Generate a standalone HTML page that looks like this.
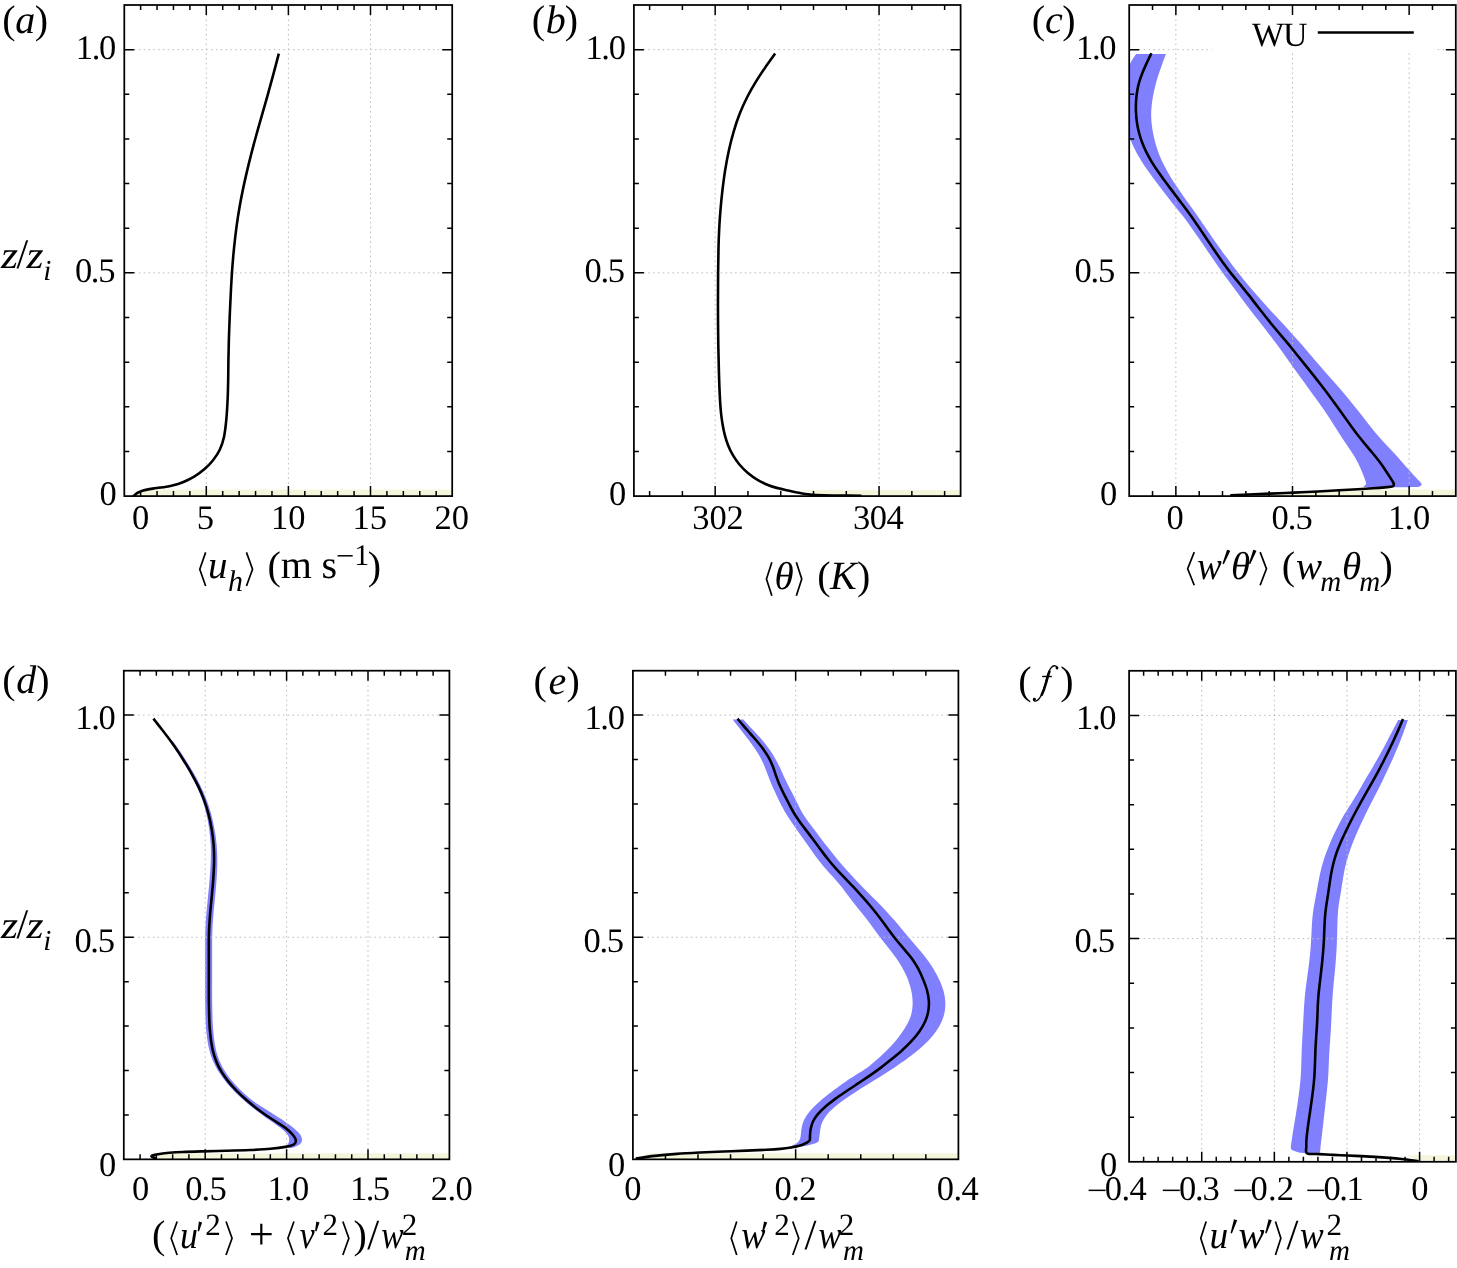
<!DOCTYPE html><html><head><meta charset="utf-8"><style>html,body{margin:0;padding:0;background:#fff;overflow:hidden;}svg{display:block;will-change:transform;}text{font-family:"Liberation Serif",serif;fill:#000;stroke:none;text-rendering:geometricPrecision;}</style></head><body>
<svg width="1457" height="1268" viewBox="0 0 1457 1268">
<rect width="1457" height="1268" fill="#fff"/>
<defs>
<clipPath id="cpa"><rect x="124.30" y="5.00" width="327.90" height="491.10"/></clipPath>
<clipPath id="cpb"><rect x="633.90" y="5.00" width="326.70" height="491.10"/></clipPath>
<clipPath id="cpc"><rect x="1129.20" y="5.00" width="326.60" height="491.10"/></clipPath>
<clipPath id="cpd"><rect x="123.80" y="670.70" width="325.60" height="488.65"/></clipPath>
<clipPath id="cpe"><rect x="632.90" y="670.70" width="325.50" height="488.65"/></clipPath>
<clipPath id="cpf"><rect x="1129.10" y="670.80" width="326.80" height="491.00"/></clipPath>
</defs>
<g clip-path="url(#cpa)">
<path d="M145.00,489.40 L452.20,489.40 L452.20,496.10 L134.00,496.10Z" fill="#f5f5dc"/>
<path d="M206.30,5.00V496.10M288.40,5.00V496.10M370.50,5.00V496.10M124.30,272.87H452.20M124.30,49.65H452.20" stroke="#bdbdbd" stroke-width="1" stroke-dasharray="1.6,3.22" fill="none"/>
<path d="M278.80,53.60 C277.90,57.03 275.31,67.05 273.40,74.17 C271.49,81.30 269.48,88.61 267.32,96.32 C265.17,104.04 262.70,112.49 260.45,120.45 C258.20,128.41 255.88,136.45 253.82,144.10 C251.77,151.75 249.88,159.15 248.15,166.33 C246.42,173.50 244.84,180.43 243.42,187.12 C242.01,193.82 240.79,199.96 239.65,206.50 C238.51,213.04 237.52,219.34 236.57,226.35 C235.63,233.36 234.72,241.23 233.97,248.57 C233.23,255.92 232.64,263.32 232.12,270.40 C231.61,277.48 231.29,283.56 230.90,291.05 C230.51,298.54 230.12,307.12 229.77,315.33 C229.43,323.53 229.08,332.74 228.85,340.30 C228.62,347.86 228.51,354.28 228.40,360.70 C228.29,367.12 228.32,372.57 228.20,378.82 C228.08,385.07 227.98,391.51 227.68,398.20 C227.37,404.89 226.99,412.51 226.38,418.98 C225.76,425.44 225.12,431.82 224.00,437.00 C222.88,442.18 221.48,446.15 219.65,450.02 C217.82,453.90 215.54,457.05 213.03,460.23 C210.51,463.40 207.69,466.36 204.55,469.10 C201.41,471.84 197.81,474.46 194.20,476.65 C190.59,478.84 186.50,480.75 182.88,482.23 C179.25,483.70 175.78,484.70 172.47,485.53 C169.17,486.35 166.33,486.69 163.03,487.20 C159.72,487.71 155.93,488.05 152.62,488.60 C149.32,489.15 145.66,489.80 143.18,490.50 C140.69,491.20 139.08,492.03 137.70,492.77 C136.32,493.52 135.66,494.36 134.88,494.95 C134.09,495.54 133.31,496.07 133.00,496.30" fill="none" stroke="#000" stroke-width="2.6" stroke-linejoin="round" stroke-linecap="butt"/>
</g>
<path d="M206.30,496.10v-10M206.30,5.00v10M288.40,496.10v-10M288.40,5.00v10M370.50,496.10v-10M370.50,5.00v10M140.62,496.10v-5M140.62,5.00v5M157.04,496.10v-5M157.04,5.00v5M173.46,496.10v-5M173.46,5.00v5M189.88,496.10v-5M189.88,5.00v5M222.72,496.10v-5M222.72,5.00v5M239.14,496.10v-5M239.14,5.00v5M255.56,496.10v-5M255.56,5.00v5M271.98,496.10v-5M271.98,5.00v5M304.82,496.10v-5M304.82,5.00v5M321.24,496.10v-5M321.24,5.00v5M337.66,496.10v-5M337.66,5.00v5M354.08,496.10v-5M354.08,5.00v5M386.92,496.10v-5M386.92,5.00v5M403.34,496.10v-5M403.34,5.00v5M419.76,496.10v-5M419.76,5.00v5M436.18,496.10v-5M436.18,5.00v5M124.30,272.87h10M452.20,272.87h-10M124.30,49.65h10M452.20,49.65h-10M124.30,451.45h5M452.20,451.45h-5M124.30,406.81h5M452.20,406.81h-5M124.30,362.16h5M452.20,362.16h-5M124.30,317.52h5M452.20,317.52h-5M124.30,228.23h5M452.20,228.23h-5M124.30,183.58h5M452.20,183.58h-5M124.30,138.94h5M452.20,138.94h-5M124.30,94.29h5M452.20,94.29h-5" stroke="#000" stroke-width="1.5" fill="none"/>
<rect x="124.30" y="5.00" width="327.90" height="491.10" fill="none" stroke="#000" stroke-width="1.75"/>
<g clip-path="url(#cpb)">
<path d="M800.00,489.90 L960.60,489.90 L960.60,496.10 L830.00,496.10Z" fill="#f5f5dc"/>
<path d="M715.17,5.00V496.10M879.07,5.00V496.10M633.90,272.87H960.60M633.90,49.65H960.60" stroke="#bdbdbd" stroke-width="1" stroke-dasharray="1.6,3.22" fill="none"/>
<path d="M775.10,53.60 C773.53,55.80 768.82,62.23 765.67,66.83 C762.53,71.42 759.30,76.14 756.23,81.17 C753.15,86.21 750.01,91.59 747.25,97.03 C744.49,102.46 741.92,108.09 739.67,113.80 C737.42,119.51 735.52,125.29 733.75,131.28 C731.98,137.26 730.44,143.33 729.02,149.72 C727.61,156.12 726.35,162.84 725.25,169.62 C724.15,176.41 723.22,183.67 722.42,190.45 C721.62,197.23 720.99,203.84 720.45,210.30 C719.91,216.76 719.50,222.78 719.18,229.20 C718.85,235.62 718.65,241.45 718.48,248.85 C718.30,256.25 718.19,264.03 718.10,273.60 C718.01,283.18 717.92,294.80 717.95,306.30 C717.97,317.80 718.08,331.13 718.25,342.60 C718.42,354.07 718.73,365.92 719.00,375.10 C719.27,384.28 719.56,391.55 719.88,397.68 C720.19,403.80 720.47,407.49 720.90,411.82 C721.33,416.16 721.82,419.80 722.48,423.68 C723.13,427.55 723.88,431.46 724.83,435.10 C725.78,438.74 726.83,442.18 728.17,445.53 C729.52,448.88 731.03,452.04 732.90,455.20 C734.77,458.36 736.90,461.52 739.40,464.47 C741.90,467.43 744.79,470.33 747.88,472.92 C750.96,475.52 754.47,477.97 757.92,480.02 C761.38,482.08 765.16,483.89 768.58,485.28 C771.99,486.66 775.20,487.47 778.43,488.33 C781.65,489.18 784.51,489.66 787.90,490.40 C791.29,491.14 795.01,492.07 798.77,492.77 C802.54,493.48 806.35,494.20 810.50,494.62 C814.65,495.05 818.59,495.19 823.65,495.35 C828.71,495.51 834.57,495.52 840.88,495.57 C847.18,495.63 858.06,495.68 861.50,495.70" fill="none" stroke="#000" stroke-width="2.6" stroke-linejoin="round" stroke-linecap="butt"/>
</g>
<path d="M715.17,496.10v-10M715.17,5.00v10M879.07,496.10v-10M879.07,5.00v10M649.61,496.10v-5M649.61,5.00v5M682.39,496.10v-5M682.39,5.00v5M747.95,496.10v-5M747.95,5.00v5M780.73,496.10v-5M780.73,5.00v5M813.51,496.10v-5M813.51,5.00v5M846.29,496.10v-5M846.29,5.00v5M911.85,496.10v-5M911.85,5.00v5M944.63,496.10v-5M944.63,5.00v5M633.90,272.87h10M960.60,272.87h-10M633.90,49.65h10M960.60,49.65h-10M633.90,451.45h5M960.60,451.45h-5M633.90,406.81h5M960.60,406.81h-5M633.90,362.16h5M960.60,362.16h-5M633.90,317.52h5M960.60,317.52h-5M633.90,228.23h5M960.60,228.23h-5M633.90,183.58h5M960.60,183.58h-5M633.90,138.94h5M960.60,138.94h-5M633.90,94.29h5M960.60,94.29h-5" stroke="#000" stroke-width="1.5" fill="none"/>
<rect x="633.90" y="5.00" width="326.70" height="491.10" fill="none" stroke="#000" stroke-width="1.75"/>
<g clip-path="url(#cpc)">
<path d="M1360.00,489.50 L1455.80,489.50 L1455.80,496.10 L1240.00,496.10Z" fill="#f5f5dc"/>
<path d="M1166.00,54.10 C1165.35,55.81 1163.36,60.89 1162.09,64.38 C1160.82,67.87 1159.52,71.44 1158.38,75.05 C1157.23,78.66 1156.13,82.39 1155.22,86.03 C1154.31,89.66 1153.53,93.39 1152.92,96.87 C1152.31,100.36 1151.84,103.75 1151.55,106.93 C1151.26,110.11 1151.13,112.98 1151.18,115.95 C1151.22,118.92 1151.44,121.72 1151.80,124.78 C1152.16,127.83 1152.65,131.02 1153.32,134.31 C1153.98,137.59 1154.78,141.06 1155.79,144.49 C1156.80,147.93 1157.99,151.45 1159.38,154.92 C1160.76,158.39 1162.34,161.87 1164.08,165.32 C1165.82,168.78 1167.77,172.23 1169.82,175.68 C1171.87,179.12 1174.13,182.61 1176.39,186.02 C1178.66,189.44 1181.06,192.86 1183.40,196.17 C1185.74,199.49 1188.14,202.72 1190.45,205.92 C1192.76,209.13 1194.97,212.16 1197.24,215.42 C1199.51,218.68 1201.55,221.77 1204.08,225.48 C1206.61,229.19 1209.32,233.25 1212.43,237.69 C1215.53,242.14 1219.23,247.33 1222.71,252.14 C1226.20,256.94 1229.89,261.98 1233.33,266.51 C1236.77,271.04 1240.06,275.25 1243.38,279.33 C1246.69,283.42 1250.01,287.27 1253.23,291.02 C1256.45,294.78 1259.66,298.42 1262.69,301.84 C1265.73,305.26 1268.53,308.37 1271.43,311.53 C1274.33,314.69 1277.11,317.60 1280.08,320.78 C1283.05,323.97 1286.17,327.28 1289.24,330.64 C1292.31,334.01 1295.49,337.56 1298.51,340.99 C1301.52,344.41 1304.42,347.80 1307.34,351.20 C1310.27,354.60 1313.02,357.88 1316.07,361.41 C1319.11,364.95 1322.21,368.50 1325.61,372.40 C1329.02,376.30 1332.82,380.56 1336.51,384.84 C1340.21,389.11 1344.22,393.75 1347.79,398.05 C1351.36,402.35 1354.76,406.61 1357.94,410.61 C1361.11,414.61 1363.95,418.41 1366.83,422.05 C1369.71,425.69 1372.40,429.11 1375.21,432.44 C1378.01,435.76 1380.78,438.84 1383.64,442.00 C1386.50,445.16 1389.46,448.22 1392.37,451.37 C1395.28,454.52 1398.29,457.78 1401.08,460.88 C1403.88,463.98 1406.67,467.18 1409.13,469.96 C1411.59,472.73 1413.82,475.28 1415.85,477.55 C1417.88,479.82 1420.58,482.19 1421.30,483.60 C1422.02,485.01 1421.05,485.42 1420.20,486.00 C1419.35,486.58 1419.57,486.90 1416.20,487.10 C1412.83,487.30 1406.03,487.18 1400.00,487.20 C1393.97,487.22 1385.97,487.22 1380.00,487.20 C1374.03,487.18 1366.52,487.70 1364.20,487.10 C1361.88,486.50 1366.20,485.43 1366.10,483.60 C1366.00,481.77 1364.59,478.77 1363.62,476.11 C1362.64,473.44 1361.61,470.59 1360.26,467.63 C1358.90,464.67 1357.32,461.52 1355.51,458.37 C1353.70,455.22 1351.57,452.06 1349.40,448.75 C1347.23,445.44 1344.85,442.07 1342.50,438.49 C1340.15,434.90 1337.73,431.04 1335.30,427.25 C1332.87,423.46 1330.38,419.46 1327.91,415.76 C1325.45,412.07 1323.02,408.63 1320.51,405.09 C1318.01,401.56 1315.59,398.31 1312.89,394.56 C1310.19,390.82 1307.30,386.76 1304.32,382.61 C1301.34,378.47 1298.06,373.92 1295.02,369.69 C1291.97,365.46 1289.00,361.32 1286.04,357.22 C1283.09,353.13 1280.29,349.16 1277.31,345.11 C1274.32,341.05 1271.18,336.86 1268.14,332.89 C1265.11,328.92 1261.97,324.98 1259.08,321.28 C1256.20,317.58 1253.53,314.20 1250.83,310.68 C1248.13,307.16 1245.63,303.79 1242.89,300.14 C1240.16,296.50 1237.32,292.69 1234.43,288.81 C1231.54,284.92 1228.51,280.89 1225.57,276.84 C1222.63,272.80 1219.78,268.76 1216.81,264.52 C1213.85,260.29 1210.83,255.83 1207.79,251.42 C1204.76,247.01 1201.51,242.25 1198.61,238.05 C1195.70,233.85 1192.97,229.84 1190.38,226.23 C1187.80,222.62 1185.51,219.50 1183.10,216.37 C1180.69,213.23 1178.34,210.41 1175.95,207.42 C1173.56,204.43 1171.16,201.51 1168.75,198.45 C1166.34,195.39 1163.91,192.19 1161.50,189.03 C1159.09,185.87 1156.64,182.64 1154.30,179.47 C1151.96,176.30 1149.65,173.17 1147.45,170.00 C1145.25,166.83 1143.24,163.96 1141.09,160.43 C1138.94,156.90 1137.05,154.01 1134.54,148.83 C1132.03,143.65 1129.29,137.51 1126.03,129.37 C1122.77,121.23 1114.52,110.51 1115.00,100.00 C1115.48,89.49 1125.40,73.95 1128.90,66.30 C1132.40,58.65 1134.82,56.13 1136.00,54.10Z" fill="#8080ff"/>
<path d="M1175.86,5.00V496.10M1292.50,5.00V496.10M1409.14,5.00V496.10M1129.20,272.87H1455.80M1129.20,49.65H1455.80" stroke="#bdbdbd" stroke-width="1" stroke-dasharray="1.6,3.22" fill="none"/>
<rect x="1211.5" y="5" width="223" height="46.2" fill="#fff"/>
<path d="M1151.40,53.30 C1150.92,54.28 1149.49,57.10 1148.49,59.20 C1147.49,61.30 1146.44,63.53 1145.40,65.88 C1144.36,68.22 1143.26,70.70 1142.27,73.25 C1141.28,75.80 1140.29,78.37 1139.47,81.19 C1138.65,84.02 1137.89,86.97 1137.33,90.21 C1136.77,93.46 1136.33,97.03 1136.10,100.65 C1135.87,104.27 1135.81,108.21 1135.96,111.93 C1136.11,115.65 1136.47,119.43 1137.00,122.98 C1137.53,126.54 1138.26,129.92 1139.15,133.26 C1140.04,136.59 1141.12,139.81 1142.34,142.99 C1143.56,146.18 1144.96,149.31 1146.47,152.38 C1147.98,155.44 1149.62,158.41 1151.40,161.41 C1153.18,164.40 1155.10,167.33 1157.15,170.34 C1159.20,173.35 1161.44,176.38 1163.70,179.47 C1165.96,182.56 1168.34,185.73 1170.70,188.88 C1173.06,192.04 1175.44,195.21 1177.85,198.40 C1180.26,201.59 1182.70,204.67 1185.19,208.01 C1187.68,211.34 1190.23,214.77 1192.79,218.41 C1195.35,222.06 1197.96,226.02 1200.56,229.88 C1203.17,233.74 1205.80,237.72 1208.41,241.56 C1211.03,245.40 1213.65,249.20 1216.25,252.93 C1218.85,256.66 1221.39,260.36 1223.99,263.92 C1226.60,267.49 1229.16,270.89 1231.87,274.32 C1234.58,277.76 1237.37,281.01 1240.23,284.52 C1243.09,288.04 1246.04,291.64 1249.04,295.43 C1252.03,299.23 1255.09,303.30 1258.21,307.30 C1261.32,311.30 1264.58,315.50 1267.74,319.41 C1270.90,323.33 1274.14,327.17 1277.17,330.80 C1280.19,334.43 1283.10,337.82 1285.90,341.19 C1288.70,344.55 1291.28,347.72 1293.94,351.00 C1296.61,354.28 1299.14,357.46 1301.87,360.87 C1304.60,364.27 1307.39,367.73 1310.33,371.43 C1313.27,375.12 1316.40,379.04 1319.49,383.03 C1322.58,387.01 1325.84,391.29 1328.86,395.32 C1331.87,399.36 1334.86,403.46 1337.59,407.22 C1340.33,410.99 1342.83,414.53 1345.27,417.93 C1347.71,421.34 1349.98,424.55 1352.26,427.66 C1354.53,430.76 1356.72,433.72 1358.93,436.55 C1361.14,439.38 1363.27,441.94 1365.51,444.64 C1367.75,447.35 1370.06,449.95 1372.36,452.77 C1374.67,455.59 1377.13,458.64 1379.34,461.58 C1381.55,464.52 1383.77,467.69 1385.61,470.41 C1387.45,473.12 1389.02,475.65 1390.37,477.85 C1391.72,480.05 1393.33,482.18 1393.70,483.60 C1394.07,485.03 1394.10,485.77 1392.60,486.40 C1391.10,487.03 1387.90,487.07 1384.67,487.39 C1381.45,487.71 1377.76,488.00 1373.27,488.31 C1368.78,488.62 1363.43,488.91 1357.74,489.25 C1352.04,489.59 1345.78,489.95 1339.10,490.32 C1332.42,490.69 1325.24,491.09 1317.68,491.46 C1310.12,491.84 1301.73,492.22 1293.74,492.58 C1285.75,492.93 1277.25,493.27 1269.73,493.59 C1262.21,493.92 1255.20,494.22 1248.63,494.52 C1242.06,494.82 1233.36,495.25 1230.30,495.40" fill="none" stroke="#000" stroke-width="2.6" stroke-linejoin="round" stroke-linecap="butt"/>
</g>
<path d="M1175.86,496.10v-10M1175.86,5.00v10M1292.50,496.10v-10M1292.50,5.00v10M1409.14,496.10v-10M1409.14,5.00v10M1152.53,496.10v-5M1152.53,5.00v5M1199.19,496.10v-5M1199.19,5.00v5M1222.51,496.10v-5M1222.51,5.00v5M1245.84,496.10v-5M1245.84,5.00v5M1269.17,496.10v-5M1269.17,5.00v5M1315.83,496.10v-5M1315.83,5.00v5M1339.16,496.10v-5M1339.16,5.00v5M1362.49,496.10v-5M1362.49,5.00v5M1385.81,496.10v-5M1385.81,5.00v5M1432.47,496.10v-5M1432.47,5.00v5M1129.20,272.87h10M1455.80,272.87h-10M1129.20,49.65h10M1455.80,49.65h-10M1129.20,451.45h5M1455.80,451.45h-5M1129.20,406.81h5M1455.80,406.81h-5M1129.20,362.16h5M1455.80,362.16h-5M1129.20,317.52h5M1455.80,317.52h-5M1129.20,228.23h5M1455.80,228.23h-5M1129.20,183.58h5M1455.80,183.58h-5M1129.20,138.94h5M1455.80,138.94h-5M1129.20,94.29h5M1455.80,94.29h-5" stroke="#000" stroke-width="1.5" fill="none"/>
<rect x="1129.20" y="5.00" width="326.60" height="491.10" fill="none" stroke="#000" stroke-width="1.75"/>
<g clip-path="url(#cpd)">
<path d="M160.00,1153.20 L449.40,1153.20 L449.40,1159.35 L156.00,1159.35Z" fill="#f5f5dc"/>
<path d="M172.70,740.69 C173.78,742.23 176.98,746.67 179.17,749.92 C181.36,753.17 183.47,756.41 185.83,760.18 C188.20,763.94 190.94,768.25 193.37,772.51 C195.81,776.76 198.32,781.31 200.45,785.70 C202.59,790.08 204.46,794.26 206.20,798.82 C207.94,803.38 209.53,808.07 210.91,813.04 C212.28,818.01 213.49,823.40 214.45,828.64 C215.41,833.88 216.17,839.00 216.65,844.47 C217.13,849.95 217.35,855.54 217.34,861.48 C217.32,867.43 216.96,873.87 216.55,880.16 C216.14,886.44 215.43,892.94 214.87,899.18 C214.31,905.42 213.62,911.78 213.19,917.61 C212.76,923.45 212.45,928.43 212.28,934.17 C212.12,939.92 212.19,945.07 212.18,952.08 C212.16,959.10 212.18,967.64 212.19,976.29 C212.19,984.95 212.07,995.20 212.22,1004.03 C212.37,1012.87 212.54,1021.93 213.10,1029.29 C213.66,1036.66 214.53,1042.95 215.61,1048.22 C216.69,1053.50 218.11,1057.22 219.59,1060.93 C221.07,1064.64 222.63,1067.41 224.50,1070.49 C226.36,1073.57 228.36,1076.39 230.78,1079.40 C233.21,1082.40 236.09,1085.52 239.03,1088.51 C241.97,1091.49 245.06,1094.50 248.43,1097.30 C251.80,1100.10 255.37,1102.70 259.24,1105.31 C263.11,1107.92 267.57,1110.39 271.65,1112.96 C275.72,1115.53 280.02,1118.21 283.67,1120.72 C287.33,1123.24 290.90,1125.78 293.60,1128.03 C296.30,1130.28 298.47,1132.35 299.88,1134.23 C301.28,1136.10 301.87,1137.80 302.02,1139.30 C302.18,1140.80 301.67,1142.10 300.80,1143.22 C299.93,1144.35 298.40,1145.25 296.80,1146.03 C295.20,1146.80 293.17,1147.74 291.20,1147.90 C289.23,1148.06 285.62,1147.52 285.00,1147.00 C284.38,1146.48 286.76,1145.80 287.45,1144.80 C288.14,1143.80 289.00,1142.43 289.15,1140.97 C289.30,1139.52 289.25,1137.79 288.35,1136.05 C287.45,1134.31 285.90,1132.51 283.76,1130.52 C281.61,1128.54 278.56,1126.36 275.48,1124.13 C272.40,1121.90 268.71,1119.56 265.29,1117.15 C261.86,1114.73 258.32,1112.25 254.91,1109.62 C251.51,1106.98 248.15,1104.23 244.86,1101.34 C241.57,1098.45 238.22,1095.37 235.16,1092.27 C232.11,1089.17 229.11,1085.90 226.53,1082.75 C223.96,1079.60 221.78,1076.62 219.70,1073.37 C217.62,1070.11 215.80,1067.16 214.06,1063.21 C212.32,1059.27 210.57,1055.24 209.26,1049.69 C207.94,1044.14 206.87,1037.51 206.18,1029.93 C205.49,1022.34 205.31,1013.11 205.12,1004.18 C204.94,995.24 205.10,984.99 205.09,976.31 C205.08,967.62 205.06,959.12 205.08,952.06 C205.09,945.01 205.02,939.79 205.19,933.96 C205.36,928.14 205.67,923.02 206.11,917.11 C206.54,911.21 207.22,904.78 207.80,898.54 C208.38,892.30 209.08,885.86 209.57,879.67 C210.06,873.48 210.55,867.20 210.73,861.41 C210.92,855.61 210.95,850.23 210.70,844.91 C210.45,839.59 209.94,834.61 209.24,829.49 C208.53,824.37 207.59,819.07 206.45,814.19 C205.32,809.31 203.96,804.70 202.40,800.21 C200.84,795.72 199.11,791.60 197.12,787.26 C195.12,782.92 192.74,778.39 190.42,774.15 C188.10,769.91 185.47,765.58 183.20,761.80 C180.93,758.02 178.90,754.75 176.79,751.49 C174.69,748.23 171.59,743.78 170.55,742.24Z" fill="#8080ff"/>
<path d="M205.20,670.70V1159.35M286.60,670.70V1159.35M368.00,670.70V1159.35M123.80,937.24H449.40M123.80,715.12H449.40" stroke="#bdbdbd" stroke-width="1" stroke-dasharray="1.6,3.22" fill="none"/>
<path d="M153.40,718.60 C154.85,720.46 159.25,726.05 162.12,729.78 C165.00,733.50 168.04,737.43 170.62,740.95 C173.21,744.48 175.39,747.55 177.65,750.92 C179.91,754.30 181.86,757.43 184.18,761.20 C186.49,764.97 189.18,769.28 191.55,773.52 C193.93,777.77 196.36,782.30 198.43,786.65 C200.49,791.00 202.29,795.14 203.95,799.65 C205.61,804.16 207.11,808.79 208.40,813.70 C209.69,818.61 210.80,823.93 211.68,829.10 C212.55,834.27 213.22,839.31 213.62,844.70 C214.03,850.09 214.17,855.58 214.10,861.45 C214.03,867.32 213.63,873.69 213.20,879.93 C212.77,886.16 212.06,892.63 211.50,898.88 C210.94,905.12 210.25,911.51 209.83,917.38 C209.40,923.24 209.09,928.29 208.92,934.08 C208.76,939.86 208.84,945.04 208.82,952.08 C208.81,959.11 208.84,967.63 208.85,976.30 C208.86,984.97 208.74,995.22 208.90,1004.10 C209.06,1012.98 209.23,1022.12 209.82,1029.60 C210.42,1037.08 211.32,1043.55 212.45,1048.97 C213.58,1054.40 215.07,1058.31 216.62,1062.17 C218.18,1066.04 219.81,1068.95 221.75,1072.15 C223.69,1075.35 225.76,1078.29 228.25,1081.40 C230.74,1084.51 233.68,1087.73 236.68,1090.80 C239.67,1093.87 242.98,1096.93 246.22,1099.80 C249.47,1102.67 252.78,1105.41 256.15,1108.03 C259.52,1110.64 263.03,1113.16 266.42,1115.50 C269.82,1117.84 273.37,1119.99 276.52,1122.05 C279.68,1124.11 282.81,1125.93 285.35,1127.88 C287.89,1129.82 290.02,1131.73 291.75,1133.70 C293.48,1135.67 295.29,1137.95 295.70,1139.70 C296.11,1141.45 295.92,1143.00 294.20,1144.20 C292.48,1145.40 289.29,1146.13 285.35,1146.90 C281.41,1147.67 276.45,1148.30 270.55,1148.82 C264.65,1149.35 257.36,1149.70 249.97,1150.03 C242.59,1150.35 234.22,1150.58 226.25,1150.80 C218.28,1151.02 209.42,1151.16 202.18,1151.35 C194.93,1151.54 188.28,1151.71 182.80,1151.95 C177.33,1152.19 173.20,1152.47 169.32,1152.80 C165.45,1153.13 162.16,1153.54 159.55,1153.92 C156.94,1154.31 155.03,1154.75 153.65,1155.12 C152.28,1155.50 151.31,1155.77 151.30,1156.20 C151.29,1156.63 152.73,1157.28 153.60,1157.70 C154.47,1158.12 156.02,1158.53 156.50,1158.70" fill="none" stroke="#000" stroke-width="2.6" stroke-linejoin="round" stroke-linecap="butt"/>
</g>
<path d="M205.20,1159.35v-10M205.20,670.70v10M286.60,1159.35v-10M286.60,670.70v10M368.00,1159.35v-10M368.00,670.70v10M140.08,1159.35v-5M140.08,670.70v5M156.36,1159.35v-5M156.36,670.70v5M172.64,1159.35v-5M172.64,670.70v5M188.92,1159.35v-5M188.92,670.70v5M221.48,1159.35v-5M221.48,670.70v5M237.76,1159.35v-5M237.76,670.70v5M254.04,1159.35v-5M254.04,670.70v5M270.32,1159.35v-5M270.32,670.70v5M302.88,1159.35v-5M302.88,670.70v5M319.16,1159.35v-5M319.16,670.70v5M335.44,1159.35v-5M335.44,670.70v5M351.72,1159.35v-5M351.72,670.70v5M384.28,1159.35v-5M384.28,670.70v5M400.56,1159.35v-5M400.56,670.70v5M416.84,1159.35v-5M416.84,670.70v5M433.12,1159.35v-5M433.12,670.70v5M123.80,937.24h10M449.40,937.24h-10M123.80,715.12h10M449.40,715.12h-10M123.80,1114.93h5M449.40,1114.93h-5M123.80,1070.50h5M449.40,1070.50h-5M123.80,1026.08h5M449.40,1026.08h-5M123.80,981.66h5M449.40,981.66h-5M123.80,892.81h5M449.40,892.81h-5M123.80,848.39h5M449.40,848.39h-5M123.80,803.97h5M449.40,803.97h-5M123.80,759.55h5M449.40,759.55h-5" stroke="#000" stroke-width="1.5" fill="none"/>
<rect x="123.80" y="670.70" width="325.60" height="488.65" fill="none" stroke="#000" stroke-width="1.75"/>
<g clip-path="url(#cpe)">
<path d="M647.00,1153.20 L958.40,1153.20 L958.40,1159.20 L636.00,1159.20Z" fill="#f5f5dc"/>
<path d="M743.40,719.50 C744.65,720.88 748.30,724.92 750.90,727.78 C753.50,730.63 756.37,733.64 759.00,736.62 C761.63,739.61 764.37,742.68 766.70,745.70 C769.03,748.73 771.13,751.79 773.00,754.77 C774.87,757.76 776.40,760.70 777.90,763.62 C779.40,766.55 780.65,769.38 782.02,772.30 C783.40,775.22 784.70,778.12 786.17,781.18 C787.65,784.23 789.30,787.47 790.90,790.62 C792.50,793.78 794.22,797.08 795.78,800.12 C797.33,803.17 798.60,805.93 800.22,808.88 C801.85,811.82 803.44,814.65 805.50,817.77 C807.56,820.90 810.10,824.27 812.60,827.62 C815.10,830.98 817.84,834.43 820.50,837.88 C823.16,841.32 825.82,844.79 828.58,848.30 C831.33,851.81 834.17,855.48 837.03,858.93 C839.88,862.38 842.69,865.63 845.70,869.00 C848.71,872.37 851.74,875.59 855.08,879.15 C858.41,882.71 862.14,886.69 865.70,890.35 C869.26,894.01 873.00,897.63 876.42,901.10 C879.85,904.57 883.09,907.75 886.27,911.17 C889.46,914.60 892.54,918.17 895.52,921.62 C898.51,925.07 901.37,928.52 904.20,931.88 C907.03,935.23 909.73,938.44 912.50,941.72 C915.27,945.01 918.18,948.35 920.80,951.58 C923.42,954.80 925.99,957.95 928.23,961.05 C930.46,964.15 932.34,967.04 934.20,970.17 C936.06,973.31 937.84,976.49 939.38,979.88 C940.91,983.26 942.44,986.89 943.42,990.50 C944.41,994.11 945.10,997.91 945.30,1001.52 C945.50,1005.14 945.25,1008.77 944.60,1012.20 C943.95,1015.62 942.84,1018.89 941.42,1022.08 C940.01,1025.26 938.20,1028.30 936.10,1031.33 C934.00,1034.35 931.56,1037.28 928.80,1040.20 C926.04,1043.12 923.01,1045.89 919.52,1048.88 C916.04,1051.86 912.12,1054.97 907.90,1058.12 C903.67,1061.28 898.80,1064.72 894.17,1067.82 C889.55,1070.93 884.68,1073.92 880.17,1076.75 C875.67,1079.58 871.33,1082.20 867.12,1084.83 C862.92,1087.45 858.83,1089.97 854.92,1092.50 C851.02,1095.03 847.16,1097.50 843.67,1100.00 C840.19,1102.50 836.86,1104.97 834.00,1107.50 C831.14,1110.03 828.52,1112.60 826.50,1115.20 C824.48,1117.80 822.94,1120.50 821.88,1123.10 C820.81,1125.70 820.52,1128.43 820.10,1130.80 C819.67,1133.17 819.69,1135.43 819.32,1137.30 C818.96,1139.17 819.26,1140.80 817.90,1142.00 C816.54,1143.20 813.52,1143.80 811.15,1144.50 C808.78,1145.20 806.23,1145.74 803.67,1146.18 C801.12,1146.61 797.78,1147.13 795.80,1147.10 C793.82,1147.07 791.64,1146.65 791.80,1146.00 C791.96,1145.35 795.44,1144.31 796.78,1143.22 C798.11,1142.14 799.14,1140.99 799.83,1139.47 C800.51,1137.96 800.57,1136.20 800.90,1134.12 C801.23,1132.05 801.20,1129.50 801.80,1127.00 C802.40,1124.50 803.14,1121.75 804.48,1119.12 C805.81,1116.50 807.60,1113.93 809.80,1111.28 C812.00,1108.62 814.69,1105.96 817.67,1103.20 C820.66,1100.44 824.12,1097.53 827.70,1094.70 C831.27,1091.87 835.25,1088.96 839.12,1086.20 C843.00,1083.44 847.41,1080.49 850.98,1078.12 C854.54,1075.76 857.79,1073.80 860.52,1072.03 C863.26,1070.25 864.86,1069.37 867.40,1067.45 C869.94,1065.53 872.74,1063.17 875.77,1060.50 C878.81,1057.83 882.54,1054.45 885.62,1051.42 C888.71,1048.40 891.64,1045.43 894.30,1042.38 C896.96,1039.32 899.40,1036.22 901.60,1033.10 C903.80,1029.97 905.90,1026.85 907.53,1023.62 C909.15,1020.40 910.52,1017.26 911.38,1013.77 C912.23,1010.29 912.65,1006.54 912.65,1002.72 C912.65,998.91 912.09,994.58 911.38,990.90 C910.66,987.22 909.51,983.78 908.38,980.65 C907.24,977.52 906.06,975.10 904.55,972.12 C903.04,969.15 901.36,966.05 899.30,962.82 C897.24,959.60 894.77,956.19 892.20,952.78 C889.63,949.36 886.70,945.97 883.90,942.32 C881.10,938.67 878.25,934.69 875.43,930.88 C872.60,927.06 869.83,923.11 866.97,919.42 C864.12,915.74 861.11,912.30 858.30,908.77 C855.49,905.25 852.83,901.80 850.12,898.25 C847.42,894.70 844.91,890.97 842.08,887.45 C839.24,883.92 836.14,880.54 833.10,877.10 C830.06,873.66 826.81,870.38 823.82,866.83 C820.84,863.28 817.93,859.51 815.17,855.80 C812.42,852.09 809.86,848.22 807.30,844.58 C804.74,840.93 802.30,837.47 799.80,833.92 C797.30,830.38 794.56,826.60 792.30,823.27 C790.04,819.95 787.98,816.85 786.23,813.97 C784.47,811.10 783.36,809.08 781.77,806.05 C780.19,803.02 778.43,799.43 776.70,795.77 C774.97,792.12 772.97,787.84 771.40,784.12 C769.83,780.41 768.62,776.93 767.27,773.48 C765.93,770.02 764.84,766.71 763.32,763.42 C761.81,760.14 760.07,756.90 758.20,753.77 C756.33,750.65 754.20,747.66 752.10,744.70 C750.00,741.74 747.79,738.88 745.60,736.03 C743.41,733.17 741.13,730.33 738.98,727.58 C736.83,724.82 733.75,720.85 732.70,719.50Z" fill="#8080ff"/>
<path d="M795.65,670.70V1159.35M632.90,937.24H958.40M632.90,715.12H958.40" stroke="#bdbdbd" stroke-width="1" stroke-dasharray="1.6,3.22" fill="none"/>
<path d="M737.50,718.70 C738.43,719.82 741.07,723.03 743.10,725.40 C745.13,727.77 747.42,730.30 749.70,732.90 C751.98,735.50 754.50,738.22 756.80,740.98 C759.10,743.73 761.46,746.57 763.50,749.42 C765.54,752.28 767.45,755.20 769.02,758.10 C770.60,761.00 771.82,763.90 772.97,766.80 C774.12,769.70 774.88,772.55 775.93,775.48 C776.98,778.40 778.00,781.34 779.27,784.32 C780.55,787.31 782.13,790.43 783.60,793.40 C785.07,796.37 786.62,799.32 788.07,802.12 C789.53,804.93 790.74,807.48 792.33,810.25 C793.91,813.02 795.54,815.70 797.60,818.73 C799.66,821.75 802.20,825.02 804.70,828.38 C807.20,831.73 809.97,835.31 812.60,838.83 C815.23,842.34 817.87,845.99 820.50,849.48 C823.13,852.96 825.72,856.44 828.38,859.73 C831.03,863.01 833.67,866.14 836.43,869.20 C839.18,872.26 842.15,875.22 844.90,878.10 C847.65,880.98 850.29,883.67 852.90,886.47 C855.51,889.27 857.80,891.81 860.58,894.90 C863.35,897.99 866.49,901.43 869.53,905.02 C872.56,908.62 875.87,912.70 878.80,916.47 C881.73,920.25 884.37,924.02 887.10,927.70 C889.83,931.38 892.42,935.04 895.17,938.52 C897.93,942.01 900.88,945.32 903.62,948.60 C906.37,951.88 909.25,954.90 911.65,958.20 C914.05,961.50 916.14,964.87 918.05,968.40 C919.96,971.93 921.60,975.69 923.10,979.38 C924.60,983.06 926.11,986.81 927.07,990.50 C928.04,994.19 928.73,997.91 928.90,1001.52 C929.07,1005.14 928.75,1008.77 928.08,1012.20 C927.40,1015.62 926.33,1018.85 924.88,1022.08 C923.42,1025.30 921.55,1028.38 919.35,1031.53 C917.15,1034.68 914.53,1037.86 911.67,1040.97 C908.82,1044.09 905.58,1047.17 902.20,1050.22 C898.82,1053.28 895.01,1056.38 891.40,1059.33 C887.79,1062.27 884.10,1065.20 880.55,1067.88 C877.00,1070.55 873.69,1072.90 870.08,1075.40 C866.46,1077.90 862.72,1080.34 858.88,1082.90 C855.03,1085.46 850.90,1088.15 847.03,1090.78 C843.15,1093.40 839.18,1096.00 835.60,1098.62 C832.02,1101.25 828.53,1103.90 825.57,1106.50 C822.62,1109.10 819.97,1111.70 817.88,1114.20 C815.78,1116.70 814.21,1119.10 813.02,1121.50 C811.84,1123.90 811.28,1126.33 810.77,1128.60 C810.27,1130.87 810.20,1133.13 810.00,1135.10 C809.80,1137.07 810.38,1139.02 809.60,1140.40 C808.82,1141.78 807.04,1142.50 805.33,1143.40 C803.61,1144.30 801.72,1145.09 799.30,1145.78 C796.88,1146.46 793.97,1147.01 790.83,1147.53 C787.68,1148.04 784.48,1148.47 780.45,1148.85 C776.43,1149.22 772.30,1149.48 766.67,1149.78 C761.05,1150.07 753.90,1150.31 746.67,1150.60 C739.45,1150.89 731.10,1151.18 723.33,1151.50 C715.55,1151.82 707.77,1152.12 700.00,1152.53 C692.23,1152.93 684.21,1153.34 676.67,1153.90 C669.14,1154.46 661.59,1155.11 654.77,1155.88 C647.96,1156.64 638.96,1158.06 635.80,1158.50" fill="none" stroke="#000" stroke-width="2.6" stroke-linejoin="round" stroke-linecap="butt"/>
</g>
<path d="M795.65,1159.35v-10M795.65,670.70v10M665.45,1159.35v-5M665.45,670.70v5M698.00,1159.35v-5M698.00,670.70v5M730.55,1159.35v-5M730.55,670.70v5M763.10,1159.35v-5M763.10,670.70v5M828.20,1159.35v-5M828.20,670.70v5M860.75,1159.35v-5M860.75,670.70v5M893.30,1159.35v-5M893.30,670.70v5M925.85,1159.35v-5M925.85,670.70v5M632.90,937.24h10M958.40,937.24h-10M632.90,715.12h10M958.40,715.12h-10M632.90,1114.93h5M958.40,1114.93h-5M632.90,1070.50h5M958.40,1070.50h-5M632.90,1026.08h5M958.40,1026.08h-5M632.90,981.66h5M958.40,981.66h-5M632.90,892.81h5M958.40,892.81h-5M632.90,848.39h5M958.40,848.39h-5M632.90,803.97h5M958.40,803.97h-5M632.90,759.55h5M958.40,759.55h-5" stroke="#000" stroke-width="1.5" fill="none"/>
<rect x="632.90" y="670.70" width="325.50" height="488.65" fill="none" stroke="#000" stroke-width="1.75"/>
<g clip-path="url(#cpf)">
<path d="M1406.60,1155.30 L1455.90,1155.30 L1455.90,1161.80 L1419.50,1161.80Z" fill="#f5f5dc"/>
<path d="M1407.90,719.90 C1407.16,722.02 1404.96,728.53 1403.44,732.65 C1401.93,736.77 1400.40,740.68 1398.79,744.63 C1397.18,748.59 1395.53,752.39 1393.78,756.38 C1392.03,760.37 1390.16,764.55 1388.31,768.57 C1386.45,772.59 1384.48,776.73 1382.64,780.51 C1380.80,784.28 1379.03,787.75 1377.27,791.21 C1375.51,794.68 1373.85,797.82 1372.08,801.29 C1370.31,804.77 1368.50,808.32 1366.66,812.07 C1364.82,815.81 1362.89,819.77 1361.04,823.77 C1359.20,827.76 1357.31,831.90 1355.57,836.04 C1353.83,840.18 1352.10,844.48 1350.62,848.61 C1349.15,852.74 1347.82,856.94 1346.74,860.83 C1345.67,864.73 1344.87,868.48 1344.16,871.98 C1343.45,875.49 1343.00,878.69 1342.49,881.86 C1341.97,885.02 1341.55,887.97 1341.06,890.95 C1340.58,893.93 1340.02,896.80 1339.56,899.75 C1339.10,902.70 1338.63,905.48 1338.30,908.64 C1337.97,911.79 1337.77,914.99 1337.60,918.69 C1337.42,922.38 1337.38,926.54 1337.25,930.80 C1337.12,935.06 1337.01,939.79 1336.81,944.25 C1336.61,948.71 1336.36,953.18 1336.04,957.54 C1335.73,961.90 1335.34,966.00 1334.94,970.41 C1334.53,974.81 1334.03,979.27 1333.61,983.96 C1333.20,988.64 1332.78,993.64 1332.46,998.52 C1332.14,1003.40 1331.94,1008.33 1331.69,1013.23 C1331.44,1018.14 1331.24,1023.00 1330.95,1027.95 C1330.66,1032.90 1330.26,1038.09 1329.95,1042.91 C1329.64,1047.73 1329.31,1052.60 1329.09,1056.87 C1328.86,1061.14 1328.79,1064.82 1328.61,1068.51 C1328.44,1072.19 1328.32,1075.27 1328.04,1078.96 C1327.75,1082.65 1327.36,1086.40 1326.91,1090.64 C1326.47,1094.88 1325.91,1099.66 1325.38,1104.39 C1324.86,1109.12 1324.28,1114.36 1323.76,1119.03 C1323.23,1123.70 1322.72,1128.35 1322.24,1132.39 C1321.77,1136.43 1321.34,1139.92 1320.92,1143.27 C1320.49,1146.62 1320.52,1150.84 1319.70,1152.50 C1318.88,1154.16 1318.45,1153.08 1316.00,1153.20 C1313.55,1153.32 1307.84,1153.31 1305.00,1153.20 C1302.16,1153.09 1300.76,1152.90 1298.98,1152.54 C1297.20,1152.19 1295.68,1151.71 1294.33,1151.06 C1292.98,1150.40 1291.32,1150.49 1290.90,1148.60 C1290.48,1146.71 1291.41,1142.92 1291.82,1139.73 C1292.23,1136.54 1292.75,1133.23 1293.34,1129.48 C1293.94,1125.74 1294.71,1121.55 1295.41,1117.26 C1296.10,1112.96 1296.88,1108.18 1297.53,1103.69 C1298.19,1099.21 1298.84,1094.51 1299.34,1090.34 C1299.85,1086.17 1300.26,1082.33 1300.56,1078.66 C1300.86,1074.99 1300.99,1071.95 1301.15,1068.31 C1301.31,1064.67 1301.36,1061.05 1301.51,1056.82 C1301.67,1052.59 1301.85,1047.72 1302.08,1042.91 C1302.31,1038.09 1302.61,1032.79 1302.88,1027.95 C1303.14,1023.11 1303.39,1018.26 1303.65,1013.86 C1303.91,1009.45 1304.10,1005.47 1304.41,1001.51 C1304.71,997.56 1305.05,994.04 1305.50,990.12 C1305.95,986.21 1306.53,982.21 1307.09,978.04 C1307.64,973.87 1308.30,969.36 1308.83,965.12 C1309.35,960.88 1309.85,956.64 1310.23,952.59 C1310.61,948.55 1310.86,944.73 1311.10,940.87 C1311.34,937.01 1311.44,933.18 1311.65,929.43 C1311.86,925.68 1312.04,921.87 1312.37,918.35 C1312.70,914.83 1313.13,911.49 1313.61,908.31 C1314.09,905.12 1314.70,902.28 1315.25,899.26 C1315.80,896.24 1316.35,893.39 1316.94,890.19 C1317.53,886.98 1318.06,883.62 1318.78,880.04 C1319.49,876.47 1320.23,872.60 1321.21,868.75 C1322.19,864.90 1323.30,860.93 1324.65,856.92 C1326.00,852.91 1327.59,848.83 1329.33,844.68 C1331.07,840.53 1333.07,836.15 1335.07,832.01 C1337.07,827.86 1339.22,823.65 1341.34,819.79 C1343.47,815.94 1345.65,812.41 1347.80,808.86 C1349.95,805.31 1352.11,802.03 1354.25,798.49 C1356.39,794.96 1358.51,791.31 1360.65,787.66 C1362.79,784.01 1364.95,780.25 1367.10,776.59 C1369.25,772.93 1371.42,769.37 1373.55,765.70 C1375.68,762.03 1377.80,758.37 1379.91,754.57 C1382.01,750.77 1384.12,746.80 1386.18,742.91 C1388.24,739.01 1390.28,735.04 1392.27,731.21 C1394.26,727.37 1397.13,721.78 1398.10,719.90Z" fill="#8080ff"/>
<path d="M1201.72,670.80V1161.80M1274.34,670.80V1161.80M1346.97,670.80V1161.80M1419.59,670.80V1161.80M1129.10,938.62H1455.90M1129.10,715.44H1455.90" stroke="#bdbdbd" stroke-width="1" stroke-dasharray="1.6,3.22" fill="none"/>
<path d="M1403.00,719.10 C1402.27,720.81 1400.13,725.89 1398.59,729.38 C1397.06,732.87 1395.47,736.44 1393.79,740.05 C1392.12,743.66 1390.34,747.37 1388.56,751.02 C1386.77,754.68 1384.94,758.38 1383.10,761.97 C1381.26,765.57 1379.40,769.14 1377.54,772.58 C1375.69,776.01 1373.78,779.36 1371.97,782.58 C1370.16,785.80 1368.40,788.85 1366.67,791.91 C1364.95,794.98 1363.34,797.87 1361.62,800.97 C1359.91,804.07 1358.15,807.21 1356.38,810.51 C1354.61,813.80 1352.77,817.28 1351.01,820.75 C1349.24,824.22 1347.49,827.78 1345.79,831.33 C1344.10,834.89 1342.38,838.43 1340.82,842.07 C1339.26,845.72 1337.72,849.40 1336.42,853.17 C1335.13,856.95 1334.00,860.86 1333.04,864.72 C1332.09,868.58 1331.37,872.58 1330.71,876.36 C1330.04,880.13 1329.58,883.89 1329.06,887.37 C1328.54,890.85 1328.08,894.04 1327.59,897.22 C1327.10,900.40 1326.56,903.26 1326.14,906.46 C1325.71,909.66 1325.34,912.93 1325.05,916.42 C1324.76,919.92 1324.61,923.72 1324.43,927.42 C1324.24,931.11 1324.14,934.88 1323.95,938.60 C1323.76,942.32 1323.56,945.96 1323.28,949.73 C1323.00,953.50 1322.64,957.37 1322.25,961.23 C1321.86,965.09 1321.40,969.09 1320.96,972.91 C1320.53,976.72 1320.06,980.54 1319.65,984.14 C1319.24,987.75 1318.83,991.17 1318.53,994.52 C1318.23,997.86 1318.02,1000.92 1317.85,1004.22 C1317.68,1007.52 1317.65,1010.76 1317.50,1014.30 C1317.35,1017.84 1317.20,1021.59 1316.97,1025.43 C1316.75,1029.27 1316.41,1033.25 1316.15,1037.32 C1315.89,1041.39 1315.62,1045.54 1315.43,1049.83 C1315.24,1054.12 1315.17,1058.58 1314.99,1063.04 C1314.81,1067.49 1314.67,1072.08 1314.35,1076.57 C1314.03,1081.05 1313.57,1085.54 1313.06,1089.94 C1312.55,1094.35 1311.90,1098.72 1311.30,1103.02 C1310.70,1107.32 1310.04,1111.61 1309.46,1115.74 C1308.87,1119.88 1308.25,1124.02 1307.77,1127.81 C1307.28,1131.60 1306.79,1135.30 1306.54,1138.49 C1306.30,1141.67 1306.21,1144.44 1306.30,1146.91 C1306.39,1149.38 1304.92,1152.10 1307.10,1153.30 C1309.28,1154.50 1315.06,1153.84 1319.40,1154.10 C1323.74,1154.36 1328.49,1154.63 1333.16,1154.87 C1337.82,1155.11 1342.72,1155.32 1347.40,1155.53 C1352.08,1155.74 1356.60,1155.90 1361.24,1156.12 C1365.89,1156.34 1370.59,1156.56 1375.25,1156.85 C1379.91,1157.14 1384.83,1157.50 1389.23,1157.87 C1393.64,1158.24 1398.00,1158.66 1401.68,1159.06 C1405.36,1159.45 1408.51,1159.84 1411.33,1160.22 C1414.15,1160.59 1417.39,1161.12 1418.60,1161.30" fill="none" stroke="#000" stroke-width="2.6" stroke-linejoin="round" stroke-linecap="butt"/>
</g>
<path d="M1201.72,1161.80v-10M1201.72,670.80v10M1274.34,1161.80v-10M1274.34,670.80v10M1346.97,1161.80v-10M1346.97,670.80v10M1419.59,1161.80v-10M1419.59,670.80v10M1143.62,1161.80v-5M1143.62,670.80v5M1158.15,1161.80v-5M1158.15,670.80v5M1172.67,1161.80v-5M1172.67,670.80v5M1187.20,1161.80v-5M1187.20,670.80v5M1216.25,1161.80v-5M1216.25,670.80v5M1230.77,1161.80v-5M1230.77,670.80v5M1245.30,1161.80v-5M1245.30,670.80v5M1259.82,1161.80v-5M1259.82,670.80v5M1288.87,1161.80v-5M1288.87,670.80v5M1303.39,1161.80v-5M1303.39,670.80v5M1317.92,1161.80v-5M1317.92,670.80v5M1332.44,1161.80v-5M1332.44,670.80v5M1361.49,1161.80v-5M1361.49,670.80v5M1376.02,1161.80v-5M1376.02,670.80v5M1390.54,1161.80v-5M1390.54,670.80v5M1405.06,1161.80v-5M1405.06,670.80v5M1434.11,1161.80v-5M1434.11,670.80v5M1448.64,1161.80v-5M1448.64,670.80v5M1129.10,938.62h10M1455.90,938.62h-10M1129.10,715.44h10M1455.90,715.44h-10M1129.10,1117.16h5M1455.90,1117.16h-5M1129.10,1072.53h5M1455.90,1072.53h-5M1129.10,1027.89h5M1455.90,1027.89h-5M1129.10,983.25h5M1455.90,983.25h-5M1129.10,893.98h5M1455.90,893.98h-5M1129.10,849.35h5M1455.90,849.35h-5M1129.10,804.71h5M1455.90,804.71h-5M1129.10,760.07h5M1455.90,760.07h-5" stroke="#000" stroke-width="1.5" fill="none"/>
<rect x="1129.10" y="670.80" width="326.80" height="491.00" fill="none" stroke="#000" stroke-width="1.75"/>
<text x="2.14" y="32.86" font-size="40.00">(</text>
<text x="15.30" y="32.86" font-size="40.00" font-style="italic">a</text>
<text x="34.72" y="32.86" font-size="40.00">)</text>
<text x="531.84" y="32.86" font-size="40.00">(</text>
<text x="545.72" y="32.86" font-size="40.00" font-style="italic">b</text>
<text x="564.72" y="32.86" font-size="40.00">)</text>
<text x="1031.74" y="32.76" font-size="40.00">(</text>
<text x="1044.96" y="32.76" font-size="40.00" font-style="italic">c</text>
<text x="1062.22" y="32.76" font-size="40.00">)</text>
<text x="2.24" y="693.46" font-size="40.00">(</text>
<text x="36.24" y="693.46" font-size="40.00">)</text>
<text x="16.26" y="693.46" font-size="40.00" font-style="italic">d</text>
<text x="533.54" y="693.76" font-size="40.00">(</text>
<text x="566.44" y="693.76" font-size="40.00">)</text>
<text x="548.61" y="693.76" font-size="40.00" font-style="italic">e</text>
<text x="1018.14" y="693.66" font-size="40.00">(</text>
<text x="1060.24" y="693.66" font-size="40.00">)</text>
<path d="M1057.2,668.6 C1057.6,665.6 1053.6,664.6 1051.2,667.6 C1048.6,670.8 1047.4,676 1046.0,681 C1044.4,687 1042.2,694.5 1039.6,698.2 C1037.6,701.2 1034.6,701.8 1033.6,700.2" fill="none" stroke="#000" stroke-width="1.3" stroke-linecap="round"/>
<path d="M1049.4,671.5 C1048.0,675 1047.2,678.5 1046.0,683 C1044.8,687.5 1043.4,691.5 1041.8,694.8" fill="none" stroke="#000" stroke-width="2.6" stroke-linecap="round"/>
<circle cx="1057.0" cy="668.0" r="1.45" fill="#000"/><circle cx="1034.4" cy="699.3" r="1.45" fill="#000"/>
<path d="M1042.2,676.5 H1051.8" stroke="#000" stroke-width="1.4"/>
<text x="75.79" y="58.65" font-size="34.50" textLength="40.52" lengthAdjust="spacing">1.0</text>
<text x="74.92" y="282.00" font-size="34.50" textLength="40.52" lengthAdjust="spacing">0.5</text>
<text x="99.46" y="505.40" font-size="34.50">0</text>
<text x="585.39" y="58.65" font-size="34.50" textLength="40.52" lengthAdjust="spacing">1.0</text>
<text x="584.52" y="282.00" font-size="34.50" textLength="40.53" lengthAdjust="spacing">0.5</text>
<text x="609.06" y="505.40" font-size="34.50">0</text>
<text x="1076.09" y="58.65" font-size="34.50" textLength="40.53" lengthAdjust="spacing">1.0</text>
<text x="1074.62" y="282.00" font-size="34.50" textLength="40.52" lengthAdjust="spacing">0.5</text>
<text x="1100.06" y="505.40" font-size="34.50">0</text>
<text x="75.29" y="728.80" font-size="34.50" textLength="40.52" lengthAdjust="spacing">1.0</text>
<text x="74.42" y="951.90" font-size="34.50" textLength="40.52" lengthAdjust="spacing">0.5</text>
<text x="98.96" y="1175.60" font-size="34.50">0</text>
<text x="584.39" y="728.80" font-size="34.50" textLength="40.52" lengthAdjust="spacing">1.0</text>
<text x="583.52" y="951.90" font-size="34.50" textLength="40.53" lengthAdjust="spacing">0.5</text>
<text x="608.06" y="1175.60" font-size="34.50">0</text>
<text x="1075.99" y="728.80" font-size="34.50" textLength="40.52" lengthAdjust="spacing">1.0</text>
<text x="1074.52" y="951.90" font-size="34.50" textLength="40.52" lengthAdjust="spacing">0.5</text>
<text x="1099.96" y="1175.60" font-size="34.50">0</text>
<text x="131.97" y="528.55" font-size="34.50">0</text>
<text x="196.85" y="528.55" font-size="34.50">5</text>
<text x="270.99" y="528.55" font-size="34.50" textLength="34.50" lengthAdjust="spacing">10</text>
<text x="352.50" y="528.55" font-size="34.50" textLength="34.50" lengthAdjust="spacing">15</text>
<text x="434.45" y="528.55" font-size="34.50" textLength="34.50" lengthAdjust="spacing">20</text>
<text x="692.34" y="528.55" font-size="34.50" textLength="51.35" lengthAdjust="spacing">302</text>
<text x="852.94" y="528.55" font-size="34.50" textLength="50.81" lengthAdjust="spacing">304</text>
<text x="1166.58" y="528.55" font-size="34.50">0</text>
<text x="1271.39" y="528.55" font-size="34.50" textLength="41.46" lengthAdjust="spacing">0.5</text>
<text x="1388.11" y="528.55" font-size="34.50" textLength="42.05" lengthAdjust="spacing">1.0</text>
<text x="131.97" y="1199.50" font-size="34.50">0</text>
<text x="185.19" y="1199.50" font-size="34.50" textLength="41.46" lengthAdjust="spacing">0.5</text>
<text x="267.56" y="1199.50" font-size="34.50" textLength="41.75" lengthAdjust="spacing">1.0</text>
<text x="349.91" y="1199.50" font-size="34.50" textLength="40.08" lengthAdjust="spacing">1.5</text>
<text x="430.63" y="1199.50" font-size="34.50" textLength="42.13" lengthAdjust="spacing">2.0</text>
<text x="624.27" y="1199.50" font-size="34.50">0</text>
<text x="774.39" y="1199.50" font-size="34.50" textLength="42.21" lengthAdjust="spacing">0.2</text>
<text x="936.84" y="1199.50" font-size="34.50" textLength="41.96" lengthAdjust="spacing">0.4</text>
<text x="1411.17" y="1199.50" font-size="34.50">0</text>
<rect x="1088.60" y="1189.60" width="17.00" height="1.5" fill="#000"/>
<rect x="1162.80" y="1189.60" width="17.00" height="1.5" fill="#000"/>
<rect x="1234.40" y="1189.60" width="17.00" height="1.5" fill="#000"/>
<rect x="1307.30" y="1189.60" width="17.00" height="1.5" fill="#000"/>
<text x="1104.69" y="1199.50" font-size="34.50" textLength="42.06" lengthAdjust="spacing">0.4</text>
<text x="1178.89" y="1199.50" font-size="34.50" textLength="40.86" lengthAdjust="spacing">0.3</text>
<text x="1250.49" y="1199.50" font-size="34.50" textLength="43.41" lengthAdjust="spacing">0.2</text>
<text x="1323.39" y="1199.50" font-size="34.50" textLength="40.38" lengthAdjust="spacing">0.1</text>
<text transform="translate(0.88,267.70) scale(1.130,1)" font-size="38.80" font-style="italic">z</text>
<text x="16.60" y="268.30" font-size="42.00">/</text>
<text transform="translate(26.48,267.70) scale(1.130,1)" font-size="38.80" font-style="italic">z</text>
<text x="43.18" y="279.70" font-size="29.00" font-style="italic">i</text>
<text transform="translate(0.88,937.70) scale(1.130,1)" font-size="38.80" font-style="italic">z</text>
<text x="16.60" y="938.30" font-size="42.00">/</text>
<text transform="translate(26.48,937.70) scale(1.130,1)" font-size="38.80" font-style="italic">z</text>
<text x="43.18" y="949.70" font-size="29.00" font-style="italic">i</text>
<text x="1252.07" y="45.50" font-size="34.00" textLength="55.45" lengthAdjust="spacing">WU</text>
<path d="M1317.8,32.6H1413.8" stroke="#000" stroke-width="2.5"/>
<path d="M205.65,552.40 L199.75,569.20 L205.65,586.00" fill="none" stroke="#000" stroke-width="1.70" stroke-linejoin="miter" stroke-miterlimit="10"/>
<text x="207.95" y="578.20" font-size="39.00" font-style="italic">u</text>
<text x="228.02" y="590.80" font-size="30.00" font-style="italic">h</text>
<path d="M246.45,552.40 L252.55,569.20 L246.45,586.00" fill="none" stroke="#000" stroke-width="1.70" stroke-linejoin="miter" stroke-miterlimit="10"/>
<text x="267.54" y="578.80" font-size="40.00">(</text>
<text x="280.86" y="578.20" font-size="40.00">m</text>
<text x="321.56" y="578.20" font-size="40.00">s</text>
<rect x="337.60" y="555.05" width="15.10" height="1.50" fill="#000"/>
<text x="354.16" y="565.40" font-size="30.00">1</text>
<text x="367.82" y="578.80" font-size="40.00">)</text>
<path d="M771.85,562.30 L766.45,579.05 L771.85,595.80" fill="none" stroke="#000" stroke-width="1.70" stroke-linejoin="miter" stroke-miterlimit="10"/>
<text x="774.39" y="588.60" font-size="39.00" font-style="italic">θ</text>
<path d="M796.35,562.30 L801.75,579.05 L796.35,595.80" fill="none" stroke="#000" stroke-width="1.70" stroke-linejoin="miter" stroke-miterlimit="10"/>
<text x="817.34" y="589.00" font-size="40.00">(</text>
<text x="829.88" y="588.60" font-size="40.00" font-style="italic">K</text>
<text x="857.04" y="589.00" font-size="40.00">)</text>
<path d="M1194.25,552.10 L1187.65,568.70 L1194.25,585.30" fill="none" stroke="#000" stroke-width="1.70" stroke-linejoin="miter" stroke-miterlimit="10"/>
<text transform="translate(1197.22,578.70) scale(0.940,1)" font-size="39.00" font-style="italic">w</text>
<path d="M1227.10,549.80 L1230.30,550.70 L1223.80,564.20 L1222.50,563.50 Z" fill="#000"/>
<text x="1230.89" y="578.70" font-size="39.00" font-style="italic">θ</text>
<path d="M1253.30,549.80 L1256.50,550.70 L1250.20,564.20 L1248.90,563.50 Z" fill="#000"/>
<path d="M1260.15,552.10 L1266.45,568.70 L1260.15,585.30" fill="none" stroke="#000" stroke-width="1.70" stroke-linejoin="miter" stroke-miterlimit="10"/>
<text x="1281.64" y="578.60" font-size="40.00">(</text>
<text x="1296.06" y="578.70" font-size="39.00" font-style="italic">w</text>
<text x="1320.16" y="590.60" font-size="29.00" font-style="italic">m</text>
<text x="1341.89" y="578.70" font-size="39.00" font-style="italic">θ</text>
<text x="1359.36" y="590.60" font-size="29.00" font-style="italic">m</text>
<text x="1379.52" y="578.60" font-size="40.00">)</text>
<text x="152.04" y="1248.20" font-size="40.00">(</text>
<path d="M177.15,1221.50 L171.15,1238.25 L177.15,1255.00" fill="none" stroke="#000" stroke-width="1.70" stroke-linejoin="miter" stroke-miterlimit="10"/>
<text transform="translate(180.01,1248.00) scale(0.920,1)" font-size="39.00" font-style="italic">u</text>
<path d="M198.90,1221.50 L202.10,1222.40 L199.00,1231.40 L197.70,1230.70 Z" fill="#000"/>
<text x="205.14" y="1234.60" font-size="31.00">2</text>
<path d="M226.05,1221.50 L232.05,1238.25 L226.05,1255.00" fill="none" stroke="#000" stroke-width="1.70" stroke-linejoin="miter" stroke-miterlimit="10"/>
<text x="248.78" y="1248.60" font-size="44.50">+</text>
<path d="M293.95,1221.50 L287.95,1238.25 L293.95,1255.00" fill="none" stroke="#000" stroke-width="1.70" stroke-linejoin="miter" stroke-miterlimit="10"/>
<text transform="translate(299.83,1248.00) scale(0.860,1)" font-size="39.00" font-style="italic">v</text>
<path d="M316.30,1221.50 L319.50,1222.40 L316.40,1231.40 L315.10,1230.70 Z" fill="#000"/>
<text x="322.54" y="1234.60" font-size="31.00">2</text>
<path d="M342.85,1221.50 L348.85,1238.25 L342.85,1255.00" fill="none" stroke="#000" stroke-width="1.70" stroke-linejoin="miter" stroke-miterlimit="10"/>
<text x="353.42" y="1248.20" font-size="40.00">)</text>
<text x="367.30" y="1248.60" font-size="43.00">/</text>
<text transform="translate(381.30,1248.00) scale(0.860,1)" font-size="39.00" font-style="italic">w</text>
<text x="401.64" y="1234.60" font-size="31.00">2</text>
<text x="404.66" y="1259.90" font-size="29.00" font-style="italic">m</text>
<path d="M736.75,1221.50 L731.25,1238.25 L736.75,1255.00" fill="none" stroke="#000" stroke-width="1.70" stroke-linejoin="miter" stroke-miterlimit="10"/>
<text transform="translate(741.13,1248.00) scale(0.930,1)" font-size="39.00" font-style="italic">w</text>
<path d="M764.00,1221.50 L767.20,1222.40 L763.60,1231.40 L762.30,1230.70 Z" fill="#000"/>
<text x="774.14" y="1234.60" font-size="31.00">2</text>
<path d="M792.75,1221.50 L798.75,1238.25 L792.75,1255.00" fill="none" stroke="#000" stroke-width="1.70" stroke-linejoin="miter" stroke-miterlimit="10"/>
<text x="804.60" y="1248.60" font-size="43.00">/</text>
<text transform="translate(818.58,1248.00) scale(0.880,1)" font-size="39.00" font-style="italic">w</text>
<text x="838.84" y="1234.60" font-size="31.00">2</text>
<text x="843.06" y="1259.90" font-size="29.00" font-style="italic">m</text>
<path d="M1206.15,1221.50 L1200.75,1238.25 L1206.15,1255.00" fill="none" stroke="#000" stroke-width="1.70" stroke-linejoin="miter" stroke-miterlimit="10"/>
<text transform="translate(1209.53,1248.00) scale(0.960,1)" font-size="39.00" font-style="italic">u</text>
<path d="M1234.00,1219.30 L1237.20,1220.20 L1231.90,1233.60 L1230.60,1232.90 Z" fill="#000"/>
<text x="1238.46" y="1248.00" font-size="39.00" font-style="italic">w</text>
<path d="M1268.60,1219.30 L1271.80,1220.20 L1266.50,1233.60 L1265.20,1232.90 Z" fill="#000"/>
<path d="M1275.45,1221.50 L1280.85,1238.25 L1275.45,1255.00" fill="none" stroke="#000" stroke-width="1.70" stroke-linejoin="miter" stroke-miterlimit="10"/>
<text x="1286.60" y="1248.60" font-size="43.00">/</text>
<text transform="translate(1300.05,1248.00) scale(0.910,1)" font-size="39.00" font-style="italic">w</text>
<text x="1326.44" y="1234.60" font-size="31.00">2</text>
<text x="1328.96" y="1259.90" font-size="29.00" font-style="italic">m</text>
</svg></body></html>
